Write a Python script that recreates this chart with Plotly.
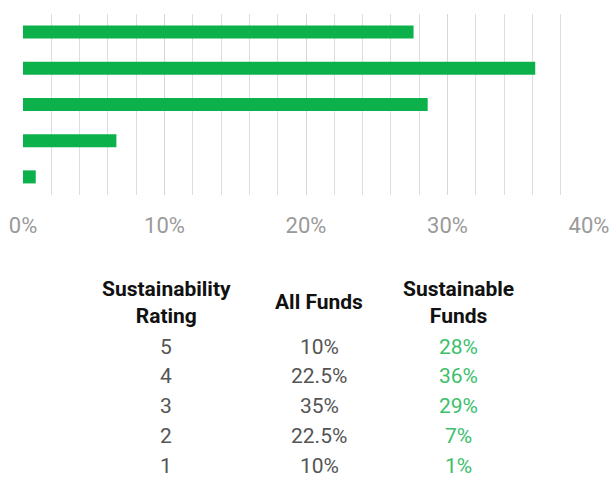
import plotly.graph_objects as go

# bar chart: share of sustainable funds by sustainability rating
ratings = ["5", "4", "3", "2", "1"]
sustainable_bar = [27.6, 36.2, 28.6, 6.6, 0.9]

# table below the chart
table_header = ["Sustainability<br>Rating", "All Funds", "Sustainable<br>Funds"]
all_funds = ["10%", "22.5%", "35%", "22.5%", "10%"]
sustainable_funds = ["28%", "36%", "29%", "7%", "1%"]

W, H = 611, 477
GREEN = "#0db14b"
TEXT_GREEN = "#3cbf6c"
FONT = "Roboto, Arial"


def px_x(x):
    return x / W


def px_y(y):
    return 1 - y / H


fig = go.Figure(go.Bar(
    x=sustainable_bar, y=ratings, orientation="h",
    marker=dict(color=GREEN, line=dict(width=0)), width=0.36,
))

fig.update_layout(
    width=W, height=H,
    margin=dict(l=0, r=0, t=0, b=0),
    plot_bgcolor="white", paper_bgcolor="white",
    showlegend=False,
    font=dict(family=FONT),
    xaxis=dict(
        domain=[px_x(23), px_x(589)], range=[0, 40], automargin=False,
        dtick=10, ticksuffix="%",
        showgrid=True, gridcolor="#d6d6d6", gridwidth=1,
        minor=dict(dtick=2, showgrid=True, gridcolor="#dedede", gridwidth=1),
        zeroline=False, showline=False,
        ticklabelstandoff=15,
        tickfont=dict(size=22, color="#9a9a9a", family=FONT),
    ),
    yaxis=dict(
        domain=[px_y(195), px_y(14)], automargin=False,
        autorange="reversed", showticklabels=False, showgrid=False,
        zeroline=False, showline=False,
    ),
)

# table as text annotations
col_x = [166, 319, 458]
for cx, head in zip(col_x, table_header):
    fig.add_annotation(
        x=px_x(cx), y=px_y(302), xref="paper", yref="paper",
        text="<b>" + head + "</b>", showarrow=False,
        xanchor="center", yanchor="middle",
        font=dict(size=21, color="#111111", family=FONT),
    )

for i, (r, a, s) in enumerate(zip(ratings, all_funds, sustainable_funds)):
    ypos = px_y(346.5 + i * 29.8)
    for cx, txt, col in zip(col_x, [r, a, s], ["#555555", "#555555", TEXT_GREEN]):
        fig.add_annotation(
            x=px_x(cx), y=ypos, xref="paper", yref="paper",
            text=txt, showarrow=False, xanchor="center", yanchor="middle",
            font=dict(size=21, color=col, family=FONT),
        )

# drop the default page margin so the figure fills the window
fig.write_html("out.html", config={"displayModeBar": False},
               post_script="document.body.style.margin='0';document.body.style.overflow='hidden';")
